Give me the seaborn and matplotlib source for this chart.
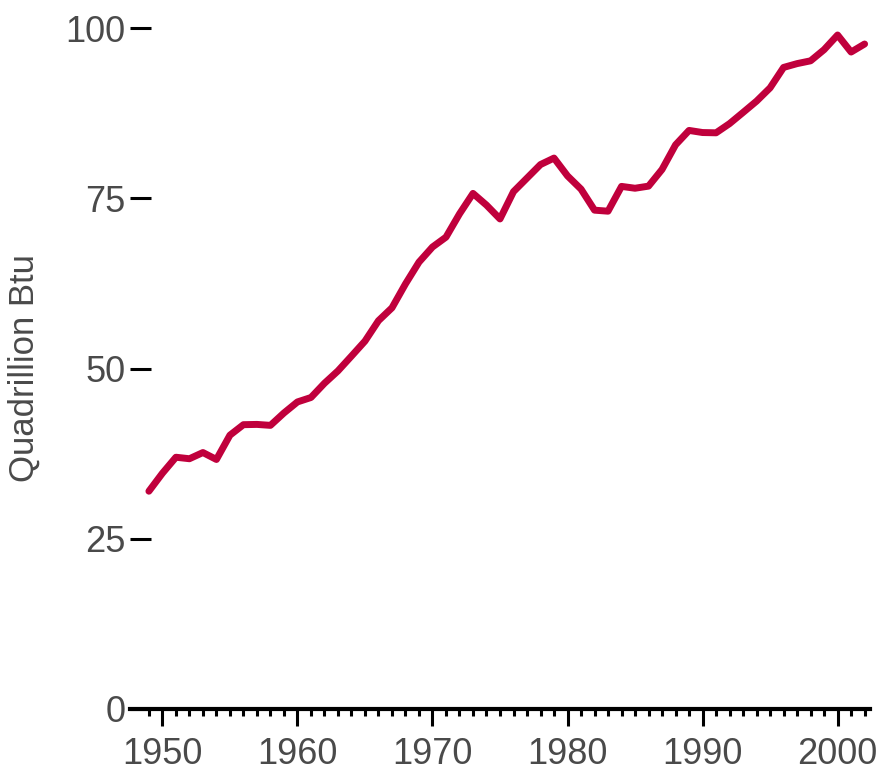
import matplotlib
matplotlib.use("Agg")
import matplotlib.pyplot as plt
import pandas as pd
import seaborn as sns

# US total energy consumption, quadrillion Btu
years = list(range(1949, 2003))
consumption = [
    31.98, 34.62, 36.97, 36.75, 37.66, 36.64, 40.21, 41.75, 41.79, 41.65,
    43.47, 45.09, 45.74, 47.83, 49.65, 51.82, 54.02, 57.02, 58.91, 62.42,
    65.62, 67.84, 69.29, 72.70, 75.71, 73.99, 71.96, 75.97, 77.96, 79.95,
    80.90, 78.28, 76.34, 73.25, 73.10, 76.74, 76.47, 76.78, 79.23, 82.84,
    84.96, 84.65, 84.61, 85.96, 87.60, 89.26, 91.21, 94.21, 94.77, 95.18,
    96.82, 98.97, 96.47, 97.65,
]
y_ticks = [0, 25, 50, 75, 100]
x_ticks = [1950, 1960, 1970, 1980, 1990, 2000]

df = pd.DataFrame({"Year": years, "Consumption": consumption})

sns.set_style("white")
plt.rcParams['font.family'] = ['Liberation Sans', 'DejaVu Sans']

fig = plt.figure(figsize=(8.84, 7.72), dpi=100)
ax = fig.add_axes([130 / 884, 1 - 709 / 772, 740 / 884, 681 / 772])

sns.lineplot(data=df, x="Year", y="Consumption", color="#c0003c",
             linewidth=5, ax=ax, clip_on=False)

ax.set_xlim(1947.6, 2002.4)
ax.set_ylim(0, 100)
ax.set_xticks(x_ticks)
ax.set_xticks([y for y in years if y not in x_ticks], minor=True)
ax.set_yticks(y_ticks)

for side in ["left", "right", "top"]:
    ax.spines[side].set_visible(False)
ax.spines["bottom"].set_linewidth(3)
ax.spines["bottom"].set_color("black")

txt = "#4a4a4a"
ax.tick_params(axis="x", which="major", bottom=True, direction="out",
               length=12, width=2.2, color="black", labelsize=26,
               labelcolor=txt, pad=8)
ax.tick_params(axis="x", which="minor", bottom=True, direction="out",
               length=5, width=2.2, color="black")
ax.tick_params(axis="y", which="major", left=True, direction="in",
               length=15, width=2.2, color="black", labelsize=26,
               labelcolor=txt, pad=3)

ax.set_xlabel("")
ax.set_ylabel("Quadrillion Btu", fontsize=25, color=txt, labelpad=18)

fig.savefig("out.png", dpi=100)
